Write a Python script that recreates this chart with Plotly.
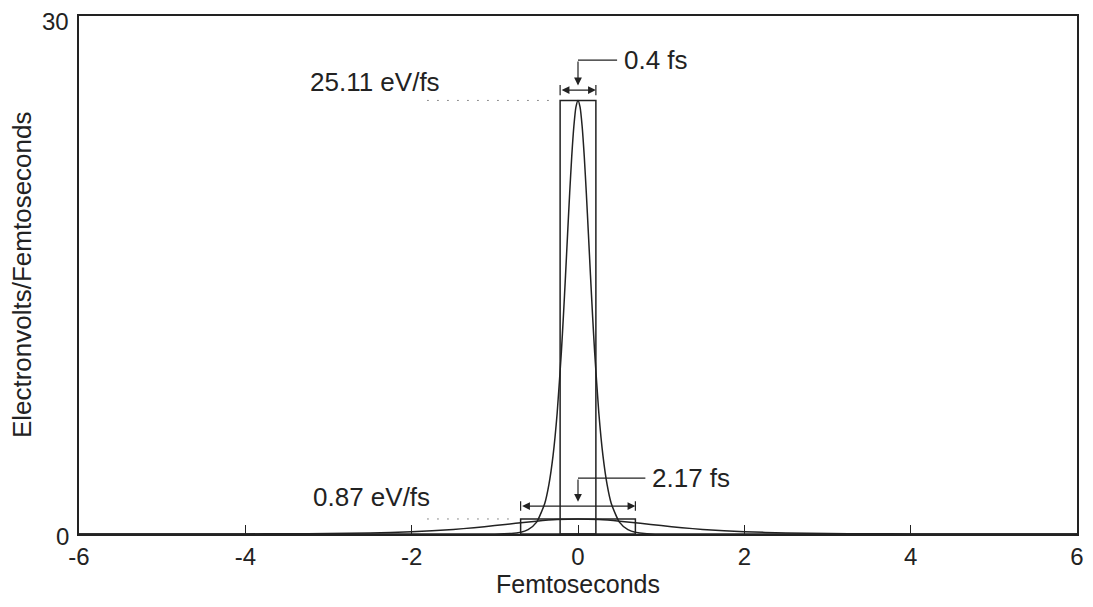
import plotly.graph_objects as go

# short pulse (eV/fs vs fs)
narrow_t = [-6, -1.2, -1.0, -0.8, -0.7, -0.6, -0.5, -0.4, -0.35, -0.3, -0.25, -0.2, -0.175, -0.15, -0.125,
            -0.1, -0.075, -0.05, -0.025, 0,
            0.025, 0.05, 0.075, 0.1, 0.125, 0.15, 0.175, 0.2, 0.25, 0.3, 0.35, 0.4, 0.5, 0.6, 0.7, 0.8,
            1.0, 1.2, 6]
narrow_v = [0, 0.0, 0.005, 0.034, 0.09, 0.25, 0.67, 1.77, 2.86, 4.54, 7.04, 10.55, 12.67, 14.98, 17.39,
            19.75, 21.89, 23.60, 24.72, 25.11,
            24.72, 23.60, 21.89, 19.75, 17.39, 14.98, 12.67, 10.55, 7.04, 4.54, 2.86, 1.77, 0.67, 0.25, 0.09, 0.034,
            0.005, 0.0, 0]

# long pulse
wide_t = [-6, -5, -4, -3.5, -3, -2.5, -2, -1.5, -1.25, -1, -0.75, -0.5, -0.25, 0,
          0.25, 0.5, 0.75, 1, 1.25, 1.5, 2, 2.5, 3, 3.5, 4, 5, 6]
wide_v = [0.0002, 0.0012, 0.0058, 0.0128, 0.0282, 0.0615, 0.131, 0.265, 0.365, 0.486, 0.619, 0.744, 0.836, 0.87,
          0.836, 0.744, 0.619, 0.486, 0.365, 0.265, 0.131, 0.0615, 0.0282, 0.0128, 0.0058, 0.0012, 0.0002]

# equivalent rectangles
peaks = [25.11, 0.87]
rect_widths = [0.43, 1.38]
peak_labels = ["25.11 eV/fs", "0.87 eV/fs"]
width_labels = ["0.4 fs", "2.17 fs"]
y_ticks = [0, 30]

FONT = "Liberation Sans, Arial, sans-serif"
INK = "#222222"
LABEL_SIZE = 26
TICK_SIZE = 24

fig = go.Figure()
fig.add_trace(go.Scatter(x=narrow_t, y=narrow_v, mode="lines",
                         line=dict(color=INK, width=1.5, shape="spline", smoothing=0.6)))
fig.add_trace(go.Scatter(x=wide_t, y=wide_v, mode="lines",
                         line=dict(color=INK, width=1.5, shape="spline", smoothing=0.6)))

# placement of each annotation group
arrow_y = [25.71, 1.62]
leader_y = [27.45, 3.24]
leader_x = [0.47, 0.81]
bar_h = [0.3, 0.28]

shapes = []
annotations = []
for i in range(2):
    h, w = peaks[i], rect_widths[i]
    shapes.append(dict(type="rect", x0=-w / 2, x1=w / 2, y0=0, y1=h,
                       line=dict(color=INK, width=1.5)))
    # dotted guide to the height label
    shapes.append(dict(type="line", x0=-1.81, x1=-w / 2 - 0.07, y0=h, y1=h,
                       line=dict(color=INK, width=1, dash="1px,9px")))
    # end bars of width arrow
    for s in (-1, 1):
        shapes.append(dict(type="line", x0=s * w / 2, x1=s * w / 2,
                           y0=arrow_y[i] - bar_h[i], y1=arrow_y[i] + bar_h[i],
                           line=dict(color=INK, width=1.2)))
    # horizontal leader
    shapes.append(dict(type="line", x0=0, x1=leader_x[i], y0=leader_y[i], y1=leader_y[i],
                       line=dict(color=INK, width=1.2)))
    # double arrow
    annotations.append(dict(x=w / 2, y=arrow_y[i], ax=-w / 2, ay=arrow_y[i],
                            xref="x", yref="y", axref="x", ayref="y", text="",
                            showarrow=True, arrowhead=2, arrowside="end+start",
                            arrowsize=1.3, arrowwidth=1.2, arrowcolor=INK))
    # down arrow from leader
    annotations.append(dict(x=0, y=arrow_y[i] + bar_h[i] * 0.9, ax=0, ay=leader_y[i],
                            xref="x", yref="y", axref="x", ayref="y", text="",
                            showarrow=True, arrowhead=2, arrowsize=1.3,
                            arrowwidth=1.2, arrowcolor=INK))
    annotations.append(dict(x=leader_x[i] + 0.06, y=leader_y[i], text=width_labels[i],
                            xanchor="left", yanchor="middle", showarrow=False,
                            font=dict(size=LABEL_SIZE, color=INK, family=FONT)))

annotations.append(dict(x=-1.64, y=26.2, text=peak_labels[0], xanchor="right", yanchor="middle",
                        showarrow=False, font=dict(size=LABEL_SIZE, color=INK, family=FONT)))
annotations.append(dict(x=-1.76, y=2.14, text=peak_labels[1], xanchor="right", yanchor="middle",
                        showarrow=False, font=dict(size=LABEL_SIZE, color=INK, family=FONT)))

# y tick labels (the top one sits a little below the frame)
for v, dy in zip(y_ticks, [-2, -5]):
    annotations.append(dict(x=0, xref="paper", xanchor="right", xshift=-8,
                            y=v, yref="y", yanchor="middle", yshift=dy,
                            text=str(v), showarrow=False,
                            font=dict(size=TICK_SIZE, color=INK, family=FONT)))

# axis titles
annotations.append(dict(x=0.5, y=-0.1255, xref="paper", yref="paper", text="Femtoseconds",
                        xanchor="center", yanchor="bottom", showarrow=False, borderpad=0,
                        font=dict(size=25, color=INK, family=FONT)))
annotations.append(dict(x=-0.057, y=0.5, xref="paper", yref="paper",
                        text="Electronvolts/Femtoseconds", textangle=-90,
                        xanchor="center", yanchor="middle", showarrow=False,
                        font=dict(size=LABEL_SIZE, color=INK, family=FONT)))

# page body adds 8px around the figure
fig.update_layout(
    width=1077, height=591,
    margin=dict(l=71, r=8, t=8, b=65),
    paper_bgcolor="white", plot_bgcolor="white",
    showlegend=False,
    font=dict(family=FONT, size=TICK_SIZE, color=INK),
    shapes=shapes, annotations=annotations,
    xaxis=dict(range=[-6, 6], tickvals=[-6, -4, -2, 0, 2, 4, 6],
               ticktext=["-6", "-4", "-2", "0", "2", "4", "6"],
               showgrid=False, zeroline=False, showline=True, mirror=True,
               linecolor=INK, linewidth=2, ticks="inside", ticklen=9, tickcolor=INK,
               ticklabelstandoff=0, automargin=False),
    yaxis=dict(range=[0, 30], tickvals=y_ticks, showticklabels=False, showgrid=False,
               zeroline=False, showline=True, mirror=True, linecolor=INK, linewidth=2,
               ticks="", automargin=False),
)

fig.write_html("out.html")
